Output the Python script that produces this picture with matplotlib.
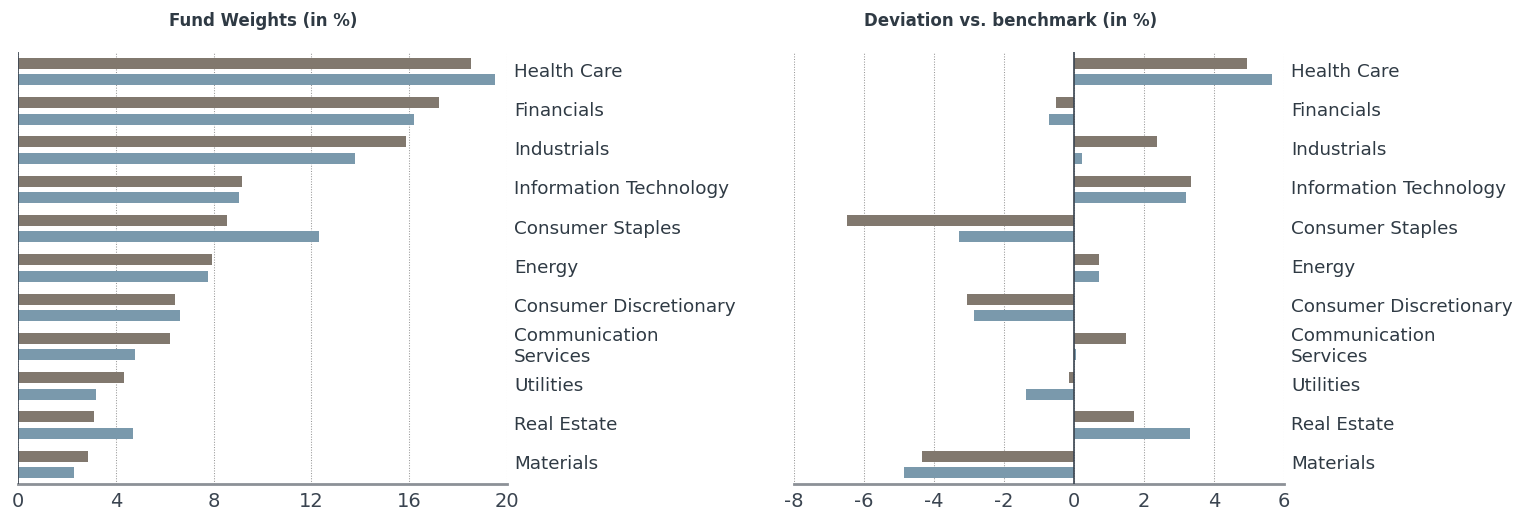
import numpy as np
import matplotlib
matplotlib.use("Agg")
import matplotlib.pyplot as plt
import matplotlib.transforms as mtransforms

# data
sectors = ["Health Care", "Financials", "Industrials", "Information Technology",
           "Consumer Staples", "Energy", "Consumer Discretionary",
           "Communication\nServices", "Utilities", "Real Estate", "Materials"]

fund_weight_a = [18.53, 17.2, 15.87, 9.16, 8.55, 7.93, 6.42, 6.22, 4.34, 3.11, 2.86]
fund_weight_b = [19.5, 16.2, 13.78, 9.04, 12.31, 7.77, 6.63, 4.79, 3.19, 4.70, 2.29]

deviation_a = [4.95, -0.5, 2.37, 3.34, -6.49, 0.71, -3.05, 1.48, -0.15, 1.71, -4.33]
deviation_b = [5.66, -0.72, 0.22, 3.2, -3.28, 0.71, -2.87, 0.05, -1.36, 3.32, -4.85]

left_ticks = [0, 4, 8, 12, 16, 20]
right_ticks = [-8, -6, -4, -2, 0, 2, 4, 6]

BROWN = "#81786e"
BLUE = "#7a99ac"
TEXT = "#2f3a44"

fig = plt.figure(figsize=(15.17, 5.12), dpi=100)
ax1 = fig.add_axes([18 / 1517, 28 / 512, 489 / 1517, 432 / 512])
ax2 = fig.add_axes([794 / 1517, 28 / 512, 490 / 1517, 432 / 512])

y = np.arange(len(sectors))
h = 0.28
off = 0.21


def style(ax, a, b, ticks, lim, title, title_x):
    ax.barh(y - off, a, height=h, color=BROWN, zorder=3)
    ax.barh(y + off, b, height=h, color=BLUE, zorder=3)
    ax.set_ylim(len(sectors) - 0.5, -0.5)
    ax.set_xlim(*lim)
    ax.set_xticks(ticks)
    ax.set_xticklabels([str(t) for t in ticks])
    ax.set_yticks([])
    ax.tick_params(axis="x", length=0, labelsize=14, labelcolor="#3a4450", pad=6)
    ax.grid(axis="x", linestyle=(0, (1, 1.5)), color="#999999", linewidth=0.75, zorder=0)
    for s in ["top", "right", "left"]:
        ax.spines[s].set_visible(False)
    ax.spines["bottom"].set_color("#8c9197")
    ax.spines["bottom"].set_linewidth(2)
    ax.axvline(0, color="#3a4450", linewidth=1.2, zorder=4)
    tr = mtransforms.blended_transform_factory(ax.transAxes, ax.transData)
    for i, name in enumerate(sectors):
        ax.text(1.0145, i, name, transform=tr, ha="left", va="center",
                fontsize=13.2, color=TEXT, linespacing=1.25)
    fig.text(title_x / 1517, 1 - 21 / 512, title, ha="center", va="center",
             fontsize=12, fontweight="bold", color=TEXT)


style(ax1, fund_weight_a, fund_weight_b, left_ticks, (0, 20), "Fund Weights (in %)", 263)
style(ax2, deviation_a, deviation_b, right_ticks, (-8, 6), "Deviation vs. benchmark (in %)", 1011)

fig.savefig("out.png", dpi=100)
